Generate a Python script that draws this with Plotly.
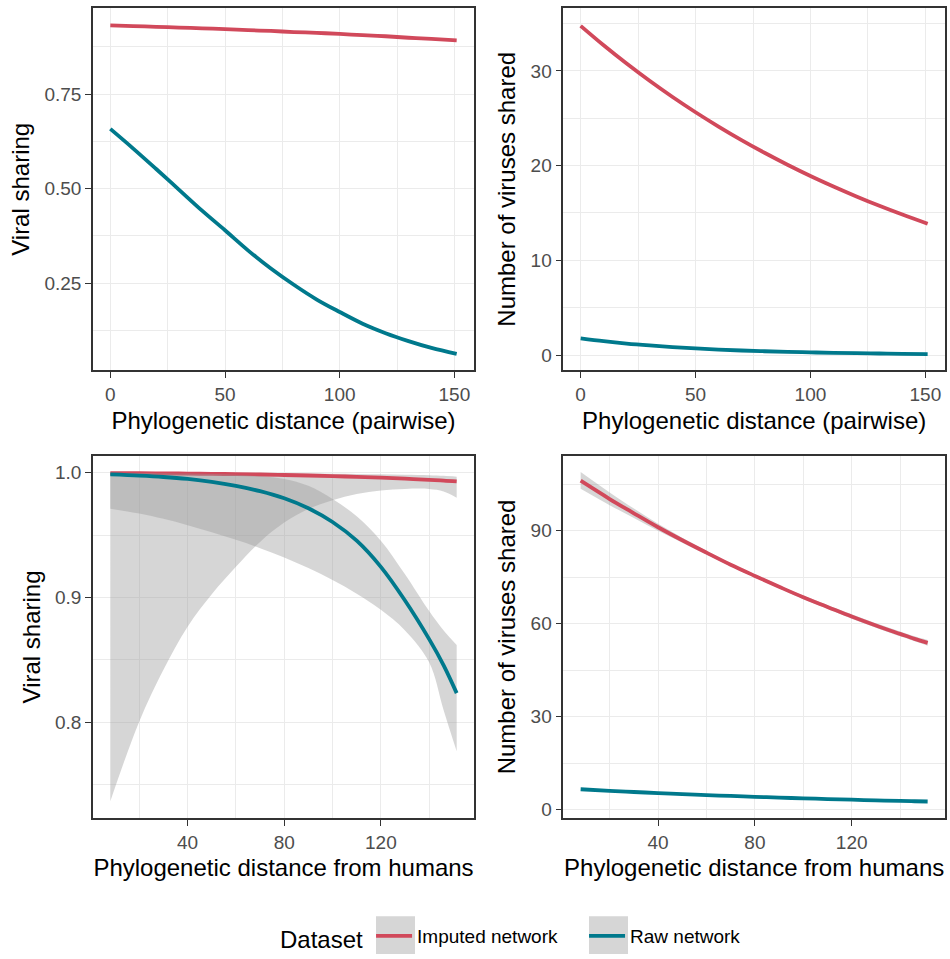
import plotly.graph_objects as go

# ---------------- data ----------------
# Top row: pairwise phylogenetic distance
x_pair = [0, 10, 20, 30, 40, 50, 60, 70, 80, 90, 100, 110, 120, 130, 140, 151]
share_pair_imputed = [0.932, 0.930, 0.928, 0.926, 0.924, 0.922, 0.919, 0.917,
                      0.914, 0.912, 0.909, 0.906, 0.903, 0.899, 0.896, 0.892]
share_pair_raw = [0.658, 0.606, 0.552, 0.497, 0.442, 0.390, 0.337, 0.289,
                  0.246, 0.207, 0.174, 0.143, 0.118, 0.097, 0.079, 0.063]
count_pair_imputed = [34.76, 32.71, 30.78, 28.96, 27.25, 25.64, 24.13, 22.70,
                      21.36, 20.10, 18.91, 17.80, 16.75, 15.76, 14.83, 13.86]
count_pair_raw = [1.76, 1.46, 1.21, 1.01, 0.84, 0.70, 0.58, 0.48,
                  0.40, 0.33, 0.28, 0.23, 0.19, 0.16, 0.13, 0.10]

# Bottom row: distance from humans
x_human = [8, 20, 30, 40, 50, 60, 70, 80, 90, 100, 110, 120, 130, 140, 146, 151.4]
share_h_imputed = [0.9997, 0.9996, 0.9995, 0.9993, 0.9991, 0.9989, 0.9986, 0.9982,
                   0.9978, 0.9973, 0.9967, 0.9960, 0.9952, 0.9943, 0.9937, 0.9930]
share_h_imputed_hi = [1.0000, 1.0000, 1.0000, 0.9999, 0.9999, 0.9998, 0.9997, 0.9996,
                      0.9994, 0.9992, 0.9990, 0.9987, 0.9984, 0.9980, 0.9975, 0.9968]
share_h_imputed_lo = [0.7365, 0.8005, 0.8420, 0.8765, 0.9025, 0.9245, 0.9445, 0.9600,
                      0.9710, 0.9780, 0.9830, 0.9858, 0.9870, 0.9870, 0.9850, 0.9800]
share_h_raw = [0.9987, 0.9977, 0.9966, 0.9950, 0.9927, 0.9895, 0.9852, 0.9795,
               0.9715, 0.9605, 0.9455, 0.9245, 0.8975, 0.8665, 0.8455, 0.8232]
share_h_raw_hi = [0.9999, 0.9998, 0.9996, 0.9993, 0.9989, 0.9983, 0.9972, 0.9950,
                  0.9895, 0.9790, 0.9650, 0.9455, 0.9185, 0.8890, 0.8735, 0.8619]
share_h_raw_lo = [0.9712, 0.9673, 0.9630, 0.9579, 0.9522, 0.9462, 0.9395, 0.9320,
                  0.9235, 0.9140, 0.9030, 0.8900, 0.8735, 0.8480, 0.8095, 0.7765]
count_h_imputed = [106.1, 100.2, 95.6, 91.1, 86.9, 82.9, 79.0, 75.4,
                   71.9, 68.5, 65.4, 62.3, 59.4, 56.7, 55.1, 53.8]
count_h_imputed_hi = [108.9, 102.3, 97.1, 92.2, 87.7, 83.5, 79.5, 75.9,
                      72.4, 69.1, 66.0, 63.0, 60.1, 57.5, 55.9, 54.7]
count_h_imputed_lo = [103.5, 98.2, 94.1, 90.0, 86.1, 82.3, 78.5, 74.9,
                      71.4, 67.9, 64.8, 61.6, 58.7, 55.9, 54.3, 52.9]
count_h_raw = [6.60, 6.09, 5.71, 5.36, 5.03, 4.72, 4.43, 4.15,
               3.90, 3.66, 3.43, 3.22, 3.02, 2.83, 2.73, 2.64]

series_names = ["Imputed network", "Raw network"]
colors = {"Imputed network": "#d1495b", "Raw network": "#00798c"}

# ---------------- figure ----------------
W, H = 950, 959
RIBBON = "rgba(153,153,153,0.4)"
LW = 3.8

fig = go.Figure()


def add_line(x, y, name, ax, show):
    fig.add_trace(go.Scatter(
        x=x, y=y, mode="lines", name=name, legendgroup=name, showlegend=show,
        line=dict(color=colors[name], width=LW, shape="spline"),
        xaxis="x" + ax, yaxis="y" + ax, hoverinfo="skip"))


def add_ribbon(x, lo, hi, name, ax):
    fig.add_trace(go.Scatter(
        x=x, y=lo, mode="lines", line=dict(width=0, shape="spline"),
        showlegend=False, legendgroup=name, xaxis="x" + ax, yaxis="y" + ax,
        hoverinfo="skip"))
    fig.add_trace(go.Scatter(
        x=x, y=hi, mode="lines", line=dict(width=0, shape="spline"),
        fill="tonexty", fillcolor=RIBBON, showlegend=False, legendgroup=name,
        xaxis="x" + ax, yaxis="y" + ax, hoverinfo="skip"))


# panel 1
add_line(x_pair, share_pair_imputed, "Imputed network", "", True)
add_line(x_pair, share_pair_raw, "Raw network", "", True)
# panel 2
add_line(x_pair, count_pair_imputed, "Imputed network", "2", False)
add_line(x_pair, count_pair_raw, "Raw network", "2", False)
# panel 3
add_ribbon(x_human, share_h_imputed_lo, share_h_imputed_hi, "Imputed network", "3")
add_line(x_human, share_h_imputed, "Imputed network", "3", False)
add_ribbon(x_human, share_h_raw_lo, share_h_raw_hi, "Raw network", "3")
add_line(x_human, share_h_raw, "Raw network", "3", False)
# panel 4
add_ribbon(x_human, count_h_imputed_lo, count_h_imputed_hi, "Imputed network", "4")
add_line(x_human, count_h_imputed, "Imputed network", "4", False)
add_line(x_human, count_h_raw, "Raw network", "4", False)

FONT = "Liberation Sans, Arial, sans-serif"
TICKFONT = dict(family=FONT, size=19, color="#4d4d4d")
TITLEFONT = dict(family=FONT, size=24, color="#000000")


def xdom(a, b):
    return [a / W, b / W]


def ydom(top, bottom):
    return [(H - bottom) / H, (H - top) / H]


def axis(domain, rng, tickvals, ticktext, minor, title, anchor):
    return dict(
        domain=domain, range=rng, anchor=anchor,
        tickmode="array", tickvals=tickvals, ticktext=ticktext,
        ticks="outside", ticklen=6, tickwidth=1.4, tickcolor="#333333",
        tickfont=TICKFONT,
        showline=True, mirror=True, linecolor="#333333", linewidth=1.5,
        showgrid=True, gridcolor="#ebebeb", gridwidth=1.4,
        zeroline=False, automargin=False,
        minor=dict(tickmode="array", tickvals=minor, showgrid=True,
                   gridcolor="#ebebeb", gridwidth=0.7, ticks=""),
        title=dict(text=title, font=TITLEFONT, standoff=8),
    )


LX = xdom(93, 474)
RX = xdom(563.3, 945)
TY = ydom(8.3, 372.3)
BY = ydom(458.3, 822.3)

xr_pair = [-7.55, 158.55]
xr_h = [0.83, 158.57]

KEY_TOP = 921
fig.update_layout(
    width=W, height=H,
    margin=dict(l=0, r=0, t=0, b=0),
    paper_bgcolor="white", plot_bgcolor="white",
    font=dict(family=FONT),
    xaxis=axis(LX, xr_pair, [0, 50, 100, 150], ["0", "50", "100", "150"],
               [25, 75, 125], "Phylogenetic distance (pairwise)", "y"),
    yaxis=axis(TY, [0.0197, 0.977], [0.25, 0.5, 0.75], ["0.25", "0.50", "0.75"],
               [0.125, 0.375, 0.625, 0.875], "Viral sharing", "x"),
    xaxis2=axis(RX, xr_pair, [0, 50, 100, 150], ["0", "50", "100", "150"],
                [25, 75, 125], "Phylogenetic distance (pairwise)", "y2"),
    yaxis2=axis(TY, [-1.62, 36.62], [0, 10, 20, 30], ["0", "10", "20", "30"],
                [5, 15, 25, 35], "Number of viruses shared", "x2"),
    xaxis3=axis(LX, xr_h, [40, 80, 120], ["40", "80", "120"],
                [20, 60, 100, 140], "Phylogenetic distance from humans", "y3"),
    yaxis3=axis(BY, [0.7230, 1.0135], [0.8, 0.9, 1.0], ["0.8", "0.9", "1.0"],
                [0.75, 0.85, 0.95], "Viral sharing", "x3"),
    xaxis4=axis(RX, xr_h, [40, 80, 120], ["40", "80", "120"],
                [20, 60, 100, 140], "Phylogenetic distance from humans", "y4"),
    yaxis4=axis(BY, [-2.68, 114.1], [0, 30, 60, 90], ["0", "30", "60", "90"],
                [15, 45, 75, 105], "Number of viruses shared", "x4"),
    legend=dict(
        orientation="h", x=278 / W, xanchor="left", y=(H - 943) / H, yanchor="middle",
        title=dict(text="Dataset", side="left", font=dict(family=FONT, size=24, color="#000")),
        font=dict(family=FONT, size=19, color="#000"),
        bgcolor="rgba(0,0,0,0)", itemwidth=36, entrywidth=162,
        traceorder="normal",
    ),
    shapes=[
        dict(type="rect", xref="paper", yref="paper",
             x0=376 / W, x1=415 / W, y0=0, y1=(H - KEY_TOP) / H,
             fillcolor="#d6d6d6", line=dict(width=0), layer="below"),
        dict(type="rect", xref="paper", yref="paper",
             x0=589 / W, x1=628 / W, y0=0, y1=(H - KEY_TOP) / H,
             fillcolor="#d6d6d6", line=dict(width=0), layer="below"),
    ],
)

fig.write_html("out.html")
